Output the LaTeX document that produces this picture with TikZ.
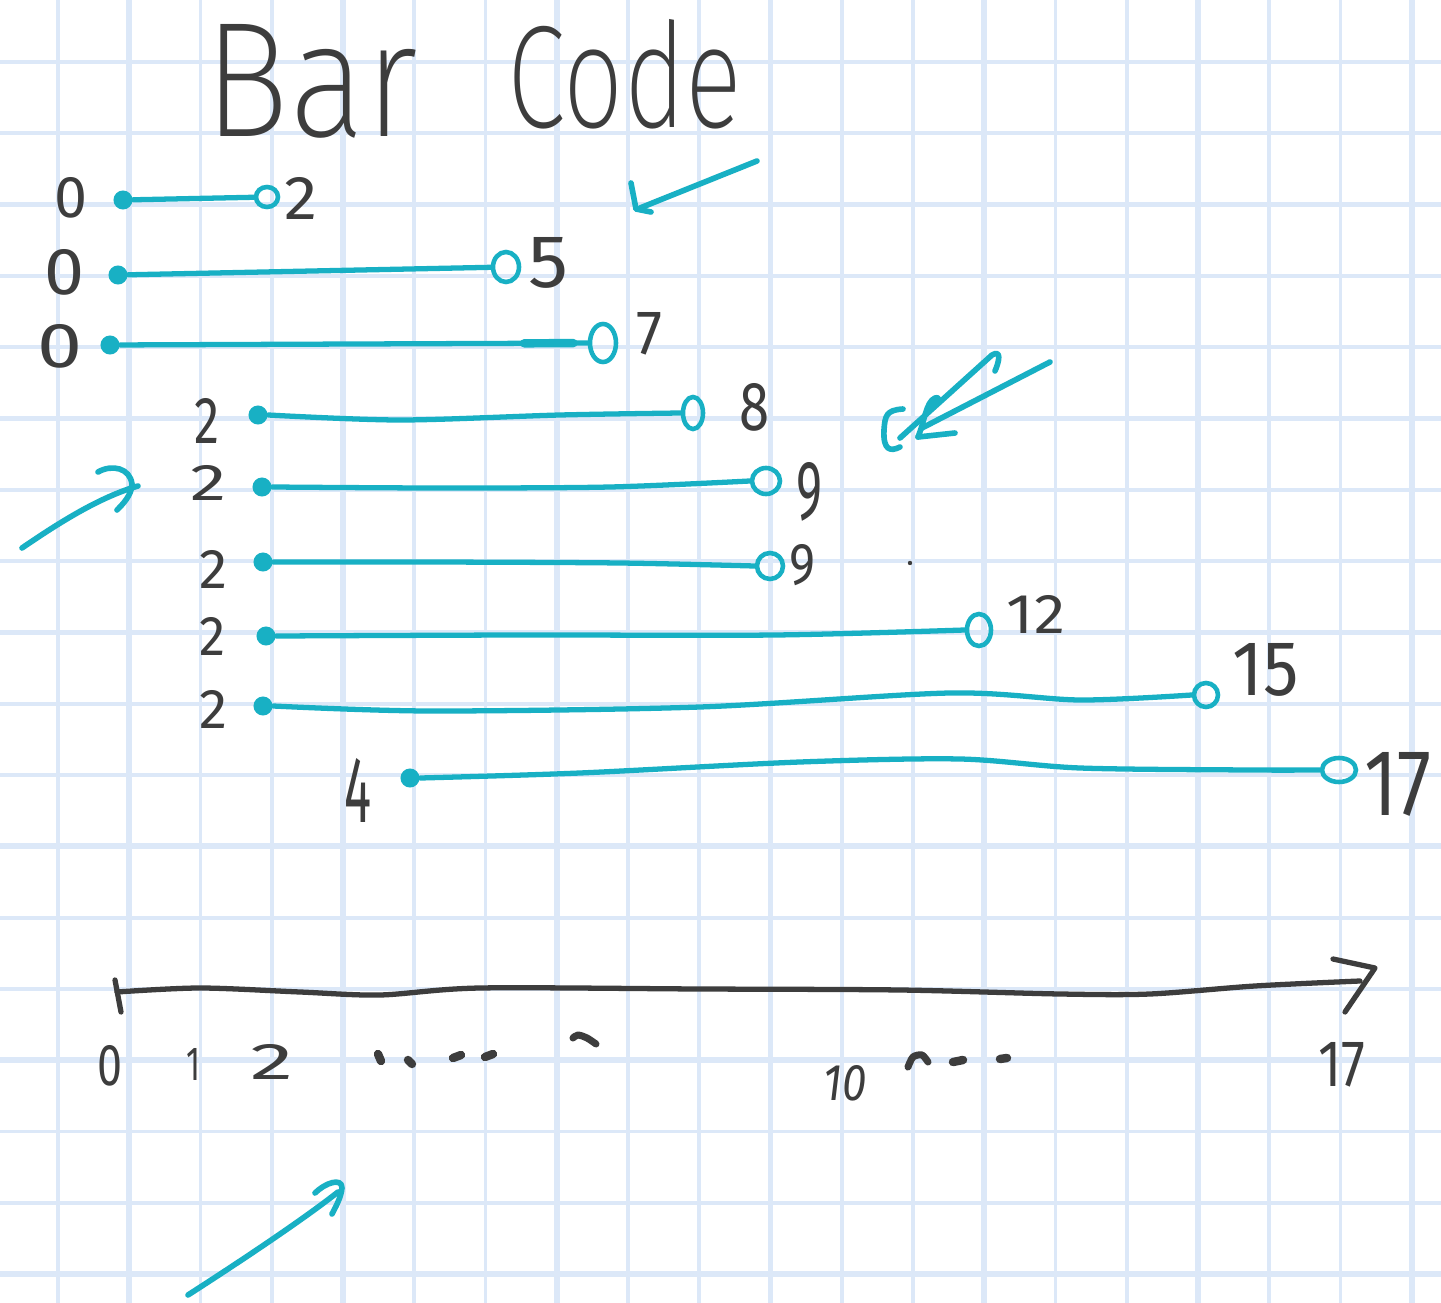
\documentclass[tikz,border=0pt]{standalone}
\usepackage{fontspec}
\setmainfont{Fira Sans}
% a thin face for the big pen-written title: first one found wins
\newcommand\trytitle[1]{\ifdefined\titlefont\else
  \IfFontExistsTF{#1}{\newfontfamily\titlefont{#1}}{}\fi}
\trytitle{Fira Sans ExtraLight}
\trytitle{Fira Sans Light}
\trytitle{Poppins ExtraLight}
\trytitle{Poppins Light}
\trytitle{Lato Light}
\trytitle{Open Sans Light}
\trytitle{DejaVu Sans ExtraLight}
\trytitle{Latin Modern Sans}
\ifdefined\titlefont\else\newfontfamily\titlefont{Fira Sans}\fi
\usepackage{graphicx}
\usetikzlibrary{shapes.geometric,calc}
\definecolor{gridblue}{HTML}{DCE8F8}
\definecolor{penteal}{HTML}{18B0C4}
\definecolor{ink}{HTML}{3D3D3D}
% handwritten-size label: width, height (cm), text
\newcommand{\hw}[3]{\resizebox{#1cm}{#2cm}{#3}}

\begin{document}
\begin{tikzpicture}[x=0.01cm,y=-0.01cm,
  gridthin/.style={draw=gridblue,line width=1.1pt},
  gridthick/.style={draw=gridblue,line width=1.6pt},
  bar/.style={draw=penteal,line width=1.5pt,line cap=round,line join=round},
  pen/.style={draw=penteal,line width=1.6pt,line cap=round,line join=round},
  inkline/.style={draw=ink,line width=1.5pt,line cap=round,line join=round},
  startdot/.style={circle,fill=penteal,inner sep=0pt,minimum size=0.19cm},
  enddot/.style 2 args={ellipse,draw=penteal,line width=1.3pt,inner sep=0pt,
    minimum width=#1,minimum height=#2},
  num/.style={text=ink,inner sep=0pt}]

% paper
\fill[white] (0,0) rectangle (1441,1303);
\useasboundingbox (0,0) rectangle (1441,1303);

% squared grid
\foreach \k in {0,2,3,5,6,8,9,11,12,14,15,17,18}
  \draw[gridthin] ({58+71.25*\k},0) -- ({58+71.25*\k},1303);
\foreach \k in {1,4,7,10,13,16,19}
  \draw[gridthick] ({58+71.25*\k},0) -- ({58+71.25*\k},1303);
\foreach \k in {0,1,3,4,6,7,9,10,12,13,15,16}
  \draw[gridthin] (0,{62+71.3*\k}) -- (1441,{62+71.3*\k});
\foreach \k in {2,5,8,11,14,17}
  \draw[gridthick] (0,{62+71.3*\k}) -- (1441,{62+71.3*\k});

% title
\node[num] (titleBar) at (311,81) {\hw{2.13}{1.12}{\titlefont Bar}};
\node[num] (titleCode) at (625,74) {\hw{2.34}{1.08}{\titlefont Code}};

% bars: start (filled) and end (open) markers
\node[startdot] (s1) at (123,200) {};
\node[enddot={0.22cm}{0.20cm}] (e1) at (267,197) {};
\node[startdot] (s2) at (118,275) {};
\node[enddot={0.26cm}{0.30cm}] (e2) at (506,267) {};
\node[startdot] (s3) at (110,345) {};
\node[enddot={0.26cm}{0.38cm}] (e3) at (603,343) {};
\node[startdot] (s4) at (258,415) {};
\node[enddot={0.20cm}{0.32cm}] (e4) at (693,413) {};
\node[startdot] (s5) at (262,487) {};
\node[enddot={0.28cm}{0.26cm}] (e5) at (766,481) {};
\node[startdot] (s6) at (263,562) {};
\node[enddot={0.26cm}{0.26cm}] (e6) at (770,566) {};
\node[startdot] (s7) at (266,636) {};
\node[enddot={0.24cm}{0.32cm}] (e7) at (979,630) {};
\node[startdot] (s8) at (263,706) {};
\node[enddot={0.24cm}{0.24cm}] (e8) at (1206,695) {};
\node[startdot] (s9) at (410,778) {};
\node[enddot={0.34cm}{0.24cm}] (e9) at (1339,770) {};

% bar lines
\draw[bar] (s1) -- (e1);
\draw[bar] (s2) -- (e2);
\draw[bar] (s3) -- (e3);
\draw[bar,line width=2.4pt] ($(s3)!0.84!(e3)$) -- ($(s3)!0.94!(e3)$);
\draw[bar] plot[smooth,tension=0.5] coordinates {(s4.east) (400,420) (560,415) (e4.west)};
\draw[bar] plot[smooth,tension=0.5] coordinates {(s5.east) (440,488) (610,487) (e5.west)};
\draw[bar] plot[smooth,tension=0.5] coordinates {(s6.east) (430,562) (620,563) (e6.west)};
\draw[bar] plot[smooth,tension=0.5] coordinates {(s7.east) (520,635) (775,635) (e7.west)};
\draw[bar] plot[smooth,tension=0.5] coordinates {(s8.east) (430,711) (700,707) (950,693) (1080,700) (e8.west)};
\draw[bar] plot[smooth,tension=0.5] coordinates {(s9.east) (580,773) (800,762) (960,759) (1080,768) (1250,770) (e9.west)};

% start labels
\node[num] (l1) at (71,198) {\hw{0.33}{0.40}{0}};
\node[num] (l2) at (65,272) {\hw{0.40}{0.45}{0}};
\node[num] (l3) at (60,346) {\hw{0.45}{0.43}{0}};
\node[num] (l4) at (207,421) {\hw{0.25}{0.45}{2}};
\node[num] (l5) at (209,483) {\hw{0.36}{0.35}{2}};
\node[num] (l6) at (214,569) {\hw{0.28}{0.38}{2}};
\node[num] (l7) at (213,636) {\hw{0.26}{0.38}{2}};
\node[num] (l8) at (214,709) {\hw{0.28}{0.38}{2}};
\node[num] (l9) at (358,790) {\hw{0.27}{0.64}{4}};

% end labels
\node[num] (r1) at (301,198) {\hw{0.33}{0.42}{2}};
\node[num] (r2) at (549,263) {\hw{0.40}{0.50}{5}};
\node[num] (r3) at (650,334) {\hw{0.26}{0.42}{7}};
\node[num] (r4) at (755,407) {\hw{0.30}{0.47}{8}};
\node[num] (r5) at (810,492) {\hw{0.26}{0.57}{9}};
\node[num] (r6) at (803,565) {\hw{0.26}{0.40}{9}};
\node[num] (r7) at (1036,614) {\hw{0.58}{0.38}{12}};
\node[num] (r8) at (1266,670) {\hw{0.66}{0.52}{15}};
\node[num] (r9) at (1398,784) {\hw{0.67}{0.63}{17}};

% time axis
\coordinate (axL) at (117,992);
\coordinate (axR) at (1360,981);
\draw[inkline] plot[smooth,tension=0.5] coordinates {(axL) (200,988) (300,992) (380,995) (480,988) (700,989) (900,990) (1060,994) (1150,994) (1255,986) (axR)};
\draw[inkline] (115,980) -- (121,1012);
\draw[inkline] (1333,959) -- (1375,968) -- (1345,1012);

% axis labels and marks
\node[num] (a0) at (110,1066) {\hw{0.25}{0.40}{0}};
\node[num] (a1) at (194,1064) {\hw{0.14}{0.32}{1}};
\node[num] (a2) at (272,1062) {\hw{0.43}{0.35}{2}};
\node[num] (a10) at (845,1083) {\hw{0.43}{0.35}{\itshape 10}};
\node[num] (a17) at (1342,1065) {\hw{0.47}{0.44}{17}};
\begin{scope}[inkline,line width=2.4pt]
  \draw (378,1054) -- (381,1061);
  \draw (408,1060) -- (412,1064);
  \draw (453,1058) -- (461,1055);
  \draw (485,1057) -- (493,1054);
  \draw (953,1062) -- (963,1060);
  \draw (1000,1059) -- (1007,1058);
\end{scope}
\draw[inkline,line width=2pt] plot[smooth] coordinates {(573,1038) (578,1035) (587,1038) (596,1044)};
\draw[inkline,line width=2pt] plot[smooth] coordinates {(908,1067) (913,1057) (922,1055) (928,1062)};
\fill[ink] (910,563) circle (2.2);

% teal annotation arrows
\draw[pen] (757,161) -- (640,208);
\draw[pen] (631,183) -- (636,209) -- (651,212);

\draw[pen] (995,371) .. controls (999,362) and (1002,349) .. (992,355) -- (900,438);
\draw[pen] (1050,362) -- (922,428);
\draw[pen] (918,437) .. controls (925,420) and (926,402) .. (935,398) .. controls (942,396) and (938,405) .. (929,408);
\draw[pen] (918,437) -- (955,433);
\draw[pen] (903,409) .. controls (886,410) and (885,416) .. (884,430) .. controls (883,450) and (890,452) .. (900,447);

\draw[pen] (22,548) .. controls (60,522) and (100,497) .. (138,486);
\draw[pen] (98,472) .. controls (112,464) and (130,468) .. (132,484) .. controls (132,495) and (122,505) .. (117,510);

\draw[pen] (188,1295) .. controls (230,1268) and (300,1222) .. (338,1192);
\draw[pen] (315,1193) .. controls (325,1183) and (342,1177) .. (342,1188) .. controls (341,1198) and (335,1208) .. (332,1214);
\end{tikzpicture}
\end{document}
